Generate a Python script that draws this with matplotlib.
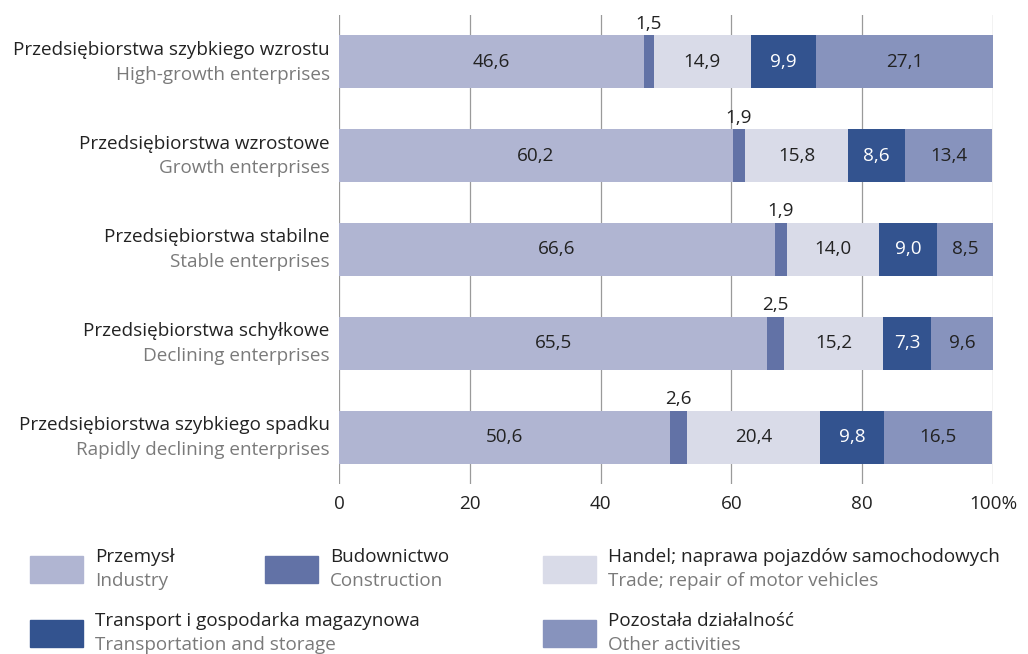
import matplotlib.pyplot as plt
import matplotlib.patches as patches
import numpy as np

plt.rcParams['font.family'] = ['Open Sans', 'DejaVu Sans']

groups_pl = ["Przedsiębiorstwa szybkiego wzrostu", "Przedsiębiorstwa wzrostowe",
             "Przedsiębiorstwa stabilne", "Przedsiębiorstwa schyłkowe",
             "Przedsiębiorstwa szybkiego spadku"]
groups_en = ["High-growth enterprises", "Growth enterprises", "Stable enterprises",
             "Declining enterprises", "Rapidly declining enterprises"]

industry = [46.6, 60.2, 66.6, 65.5, 50.6]
construction = [1.5, 1.9, 1.9, 2.5, 2.6]
trade = [14.9, 15.8, 14.0, 15.2, 20.4]
transport = [9.9, 8.6, 9.0, 7.3, 9.8]
other = [27.1, 13.4, 8.5, 9.6, 16.5]

sectors_pl = ["Przemysł", "Budownictwo", "Handel; naprawa pojazdów samochodowych",
              "Transport i gospodarka magazynowa", "Pozostała działalność"]
sectors_en = ["Industry", "Construction", "Trade; repair of motor vehicles",
              "Transportation and storage", "Other activities"]
colors = ["#b0b5d2", "#6272a6", "#d9dbe8", "#33538f", "#8793bd"]
text_colors = ["#222222", None, "#222222", "white", "#222222"]

series = [industry, construction, trade, transport, other]
FS = 13.6

fig = plt.figure(figsize=(10.28, 6.54), dpi=100)
ax = fig.add_axes([339/1028, 1-484/654, 654/1028, 469/654])

y = np.arange(len(groups_pl))
left = np.zeros(len(groups_pl))
for k, vals in enumerate(series):
    vals = np.array(vals)
    ax.barh(y, vals, left=left, height=0.565, color=colors[k], zorder=2)
    for i, v in enumerate(vals):
        lbl = f"{v:.1f}".replace(".", ",")
        cx = left[i] + v / 2
        if k == 1:
            ax.text(cx, y[i] - 0.31, lbl, ha="center", va="bottom",
                    fontsize=FS, color="#222222")
        else:
            ax.text(cx, y[i], lbl, ha="center", va="center",
                    fontsize=FS, color=text_colors[k])
    left += vals

ax.set_xlim(0, 100)
ax.set_ylim(4.5, -0.5)
ax.set_xticks(np.arange(0, 101, 20))
ax.set_xticklabels(["0", "20", "40", "60", "80", "100%"], fontsize=FS, color="#222222")
ax.tick_params(axis="x", length=0, pad=8)
ax.set_yticks([])
ax.grid(axis="x", color="#9a9a9a", linewidth=0.9, zorder=0)
for s in ax.spines.values():
    s.set_visible(False)

# two-line category labels to the left of the bars
for i in range(len(groups_pl)):
    ax.text(-1.4, y[i] - 0.13, groups_pl[i], ha="right", va="center",
            fontsize=FS, color="#222222")
    ax.text(-1.4, y[i] + 0.135, groups_en[i], ha="right", va="center",
            fontsize=FS, color="#7a7a7a")

# legend drawn by hand in figure pixels
W, H = 1028, 654
legend_pos = [(30, 556, 95), (265, 556, 330), (543, 556, 608),
              (30, 620, 95), (543, 620, 608)]
for k, (px, py, tx) in enumerate(legend_pos):
    fig.patches.append(patches.Rectangle((px / W, 1 - (py + 27) / H), 53 / W, 27 / H,
                                         transform=fig.transFigure, color=colors[k]))
    fig.text(tx / W, 1 - (py + 1) / H, sectors_pl[k], ha="left", va="center",
             fontsize=FS, color="#222222")
    fig.text(tx / W, 1 - (py + 25) / H, sectors_en[k], ha="left", va="center",
             fontsize=FS, color="#7a7a7a")

fig.savefig("out.png", dpi=100)
